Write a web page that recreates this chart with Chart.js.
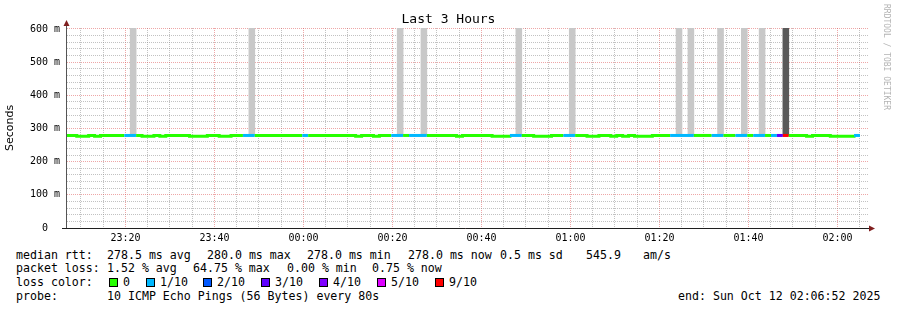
<!DOCTYPE html>
<html>
<head>
<meta charset="utf-8">
<script src="https://cdn.jsdelivr.net/npm/chart.js@4.4.1/dist/chart.umd.min.js"></script>
<style>
  html, body { margin: 0; padding: 0; background: #fff; }
  body { width: 897px; height: 310px; position: relative; overflow: hidden; font-family: "DejaVu Sans Mono", monospace; color: #000; }
  #box { position: absolute; left: 0; top: 0; width: 897px; height: 245px; }
  #title { position: absolute; left: 0; top: 11px; width: 897px; text-align: center; font-size: 13px; line-height: 16px; }
  #credit { position: absolute; left: 882px; top: 4px; writing-mode: vertical-rl; font-size: 8px; line-height: 9px; color: #b4b4b4; }
  .leg { position: absolute; font-size: 11.6px; line-height: 14px; white-space: pre; }
  .sw { position: absolute; width: 7px; height: 7px; border: 1px solid #000; }
</style>
</head>
<body>
<div id="box"><canvas id="smoke" width="897" height="245"></canvas></div>
<div id="title">Last 3 Hours</div>
<div id="credit">RRDTOOL / TOBI OETIKER</div>
<div id="legend"></div>
<script>
// time axis in minutes relative to 00:00, one step = 80 s
const viewStart = -53.1333;   // 23:06:52
const viewEnd = 126.8667;     // 02:06:52
const firstStep = -53.6;      // 23:06:24
const stepLen = 80 / 60;

// median rtt per 80 s step (ms)
const medianMs = [
  279, 279, 277, 277, 279, 277, 279, 279, 279, 279,
  279, 279, 279, 277, 277, 279, 277, 279, 279, 279,
  279, 277, 277, 277, 279, 279, 277, 277, 279, 279,
  279, 279, 279, 279, 279, 279, 279, 279, 279, 279,
  279, 279, 279, 279, 279, 279, 279, 279, 279, 277,
  279, 279, 277, 279, 279, 279, 279, 279, 279, 279,
  279, 279, 279, 279, 279, 279, 277, 279, 279, 279,
  279, 279, 277, 277, 277, 279, 279, 279, 279, 277,
  277, 277, 279, 279, 279, 279, 279, 279, 277, 277,
  279, 279, 277, 279, 277, 279, 277, 277, 277, 279,
  279, 279, 279, 279, 279, 279, 279, 279, 279, 279,
  279, 279, 279, 279, 279, 279, 279, 279, 279, 279,
  279, 279, 279, 279, 279, 277, 279, 279, 279, 277,
  277, 277, 277, 279
];

// lost pings out of 10 per step
const lossCount = [
  0, 0, 0, 0, 0, 0, 0, 0, 0, 0,
  1, 1, 0, 0, 0, 0, 0, 0, 0, 0,
  0, 0, 0, 0, 0, 0, 0, 0, 0, 0,
  1, 1, 0, 0, 0, 0, 0, 0, 0, 0,
  1, 0, 0, 0, 0, 0, 0, 0, 0, 0,
  0, 0, 0, 0, 0, 1, 1, 0, 1, 1,
  1, 0, 0, 0, 0, 0, 0, 0, 0, 0,
  0, 0, 0, 0, 0, 1, 1, 0, 0, 0,
  0, 0, 0, 0, 1, 1, 0, 0, 0, 0,
  0, 0, 0, 0, 0, 0, 0, 0, 0, 0,
  0, 0, 1, 1, 1, 1, 0, 0, 0, 1,
  1, 0, 0, 1, 1, 0, 1, 1, 0, 1,
  3, 9, 0, 0, 0, 0, 0, 0, 0, 0,
  0, 0, 0, 1
];

// steps that carry smoke and its upper end (ms, above the graph top)
const smokeSteps = [11, 31, 56, 60, 76, 85, 103, 105, 110, 114, 117, 121];
const smokeTopMs = [650, 650, 650, 650, 650, 650, 650, 650, 650, 650, 650, 650];

const lossLabels = ['0', '1/10', '2/10', '3/10', '4/10', '5/10', '9/10'];
const lossLevels = [0, 1, 2, 3, 4, 5, 9];
const lossColors = ['#26ff00', '#00b8ff', '#0059ff', '#5e00ff', '#7e00ff', '#dd00ff', '#ff0000'];

const timeLabels = ['23:20', '23:40', '00:00', '00:20', '00:40', '01:00', '01:20', '01:40', '02:00'];
const timeLabelAt = [-40, -20, 0, 20, 40, 60, 80, 100, 120];

const statRows = [
  [['median rtt:', 16], ['278.5 ms avg', 107], ['280.0 ms max', 207], ['278.0 ms min', 307], ['278.0 ms now', 408], ['0.5 ms sd', 500], ['545.9', 586], ['am/s', 643]],
  [['packet loss:', 16], ['1.52 % avg', 107], ['64.75 % max', 193], ['0.00 % min', 287], ['0.75 % now', 372]],
  [['loss color:', 16]],
  [['probe:', 16], ['10 ICMP Echo Pings (56 Bytes) every 80s', 107], ['end: Sun Oct 12 02:06:52 2025', 678]]
];
const rowTops = [248, 261, 275, 289];
const swatchX = [109, 146, 203, 261, 319, 377, 435];

function colorForLoss(n) {
  let c = lossColors[0];
  lossLevels.forEach((lv, i) => { if (n >= lv) c = lossColors[i]; });
  return c;
}

// legend text below the graph
const legend = document.getElementById('legend');
statRows.forEach((row, r) => {
  row.forEach(([text, x]) => {
    const s = document.createElement('span');
    s.className = 'leg';
    s.textContent = text;
    s.style.left = x + 'px';
    s.style.top = rowTops[r] + 'px';
    legend.appendChild(s);
  });
});
lossLabels.forEach((label, i) => {
  const box = document.createElement('span');
  box.className = 'sw';
  box.style.left = swatchX[i] + 'px';
  box.style.top = (rowTops[2] + 3) + 'px';
  box.style.background = lossColors[i];
  legend.appendChild(box);
  const t = document.createElement('span');
  t.className = 'leg';
  t.textContent = label;
  t.style.left = (swatchX[i] + 14) + 'px';
  t.style.top = rowTops[2] + 'px';
  legend.appendChild(t);
});

const medianPoints = medianMs.map((v, i) => ({ x: firstStep + i * stepLen, y: v }));
medianPoints.push({ x: firstStep + medianMs.length * stepLen, y: medianMs[medianMs.length - 1] });

const smokeBars = medianMs.map((v, i) => {
  const k = smokeSteps.indexOf(i);
  return { x: firstStep + (i + 0.5) * stepLen, y: k >= 0 ? [v, smokeTopMs[k]] : null };
});

const gridMinutes = [];
for (let m = -50; m <= 125; m += 5) gridMinutes.push(m);
const gridMs = [];
for (let v = 0; v <= 600; v += 20) gridMs.push(v);

const majorGrid = 'rgba(222,79,79,0.5)';
const minorGrid = 'rgba(143,143,143,0.55)';

const axisArrows = {
  id: 'axisArrows',
  afterDraw(chart) {
    const { ctx, chartArea: a } = chart;
    ctx.save();
    ctx.lineWidth = 1;
    ctx.strokeStyle = '#1f1f1f';
    ctx.beginPath();
    ctx.moveTo(62, a.bottom + 0.5);
    ctx.lineTo(a.right + 1, a.bottom + 0.5);
    ctx.stroke();
    ctx.strokeStyle = '#555';
    ctx.beginPath();
    ctx.moveTo(a.left - 0.5, 25);
    ctx.lineTo(a.left - 0.5, a.bottom);
    ctx.stroke();
    ctx.fillStyle = '#801f1f';
    ctx.beginPath();
    ctx.moveTo(a.left - 0.5, 20);
    ctx.lineTo(a.left - 3.5, 26);
    ctx.lineTo(a.left + 2.5, 26);
    ctx.closePath();
    ctx.fill();
    ctx.beginPath();
    ctx.moveTo(a.right + 7, a.bottom + 0.5);
    ctx.lineTo(a.right + 1, a.bottom - 2.5);
    ctx.lineTo(a.right + 1, a.bottom + 3.5);
    ctx.closePath();
    ctx.fill();
    ctx.restore();
  }
};

new Chart(document.getElementById('smoke'), {
  type: 'bar',
  data: {
    datasets: [
      {
        type: 'line',
        data: medianPoints,
        stepped: 'before',
        borderWidth: 3,
        borderColor: lossColors[0],
        borderCapStyle: 'butt',
        pointRadius: 0,
        clip: 0,
        order: 0,
        segment: {
          borderColor: (ctx) => colorForLoss(lossCount[ctx.p0DataIndex] || 0),
        },
      },
      {
        type: 'bar',
        data: smokeBars,
        backgroundColor: (ctx) => (lossCount[ctx.dataIndex] >= 6 ? '#5a5a5a' : '#c8c8c8'),
        borderWidth: 0,
        barPercentage: 1,
        categoryPercentage: 1,
        grouped: false,
        clip: 0,
        order: 1,
      },
    ],
  },
  options: {
    responsive: false,
    animation: false,
    events: [],
    layout: { padding: { top: 28, right: 29, left: 0, bottom: 0 } },
    plugins: {
      legend: { display: false },
      tooltip: { enabled: false },
      title: { display: false },
    },
    scales: {
      x: {
        type: 'linear',
        min: viewStart,
        max: viewEnd,
        offset: false,
        afterBuildTicks: (s) => { s.ticks = gridMinutes.map((v) => ({ value: v })); },
        afterFit: (s) => { s.height = 17; },
        ticks: {
          autoSkip: false,
          maxRotation: 0,
          minRotation: 0,
          padding: 4,
          color: '#000',
          font: { family: 'DejaVu Sans Mono', size: 10 },
          callback: (v) => {
            const k = timeLabelAt.indexOf(v);
            return k >= 0 ? timeLabels[k] : '';
          },
        },
        grid: {
          offset: false,
          drawTicks: false,
          lineWidth: 1,
          color: (ctx) => (ctx.tick && ctx.tick.value % 20 === 0 ? majorGrid : minorGrid),
        },
        border: { display: false, dash: [1, 1] },
      },
      y: {
        type: 'linear',
        min: 0,
        max: 603,
        afterBuildTicks: (s) => { s.ticks = gridMs.map((v) => ({ value: v })); },
        afterFit: (s) => { s.width = 67; },
        ticks: {
          autoSkip: false,
          padding: 7,
          color: '#000',
          font: { family: 'DejaVu Sans Mono', size: 10 },
          callback: (v) => (v % 100 === 0 ? (v === 0 ? '0  ' : v + ' m') : ''),
        },
        grid: {
          drawTicks: false,
          lineWidth: 1,
          color: (ctx) => (ctx.tick && ctx.tick.value % 100 === 0 ? majorGrid : minorGrid),
        },
        border: { display: false, dash: [1, 1] },
        title: {
          display: true,
          text: 'Seconds',
          color: '#000',
          font: { family: 'DejaVu Sans', size: 11 },
          padding: { top: 4, bottom: 0 },
        },
      },
    },
  },
  plugins: [axisArrows],
});
</script>
</body>
</html>
